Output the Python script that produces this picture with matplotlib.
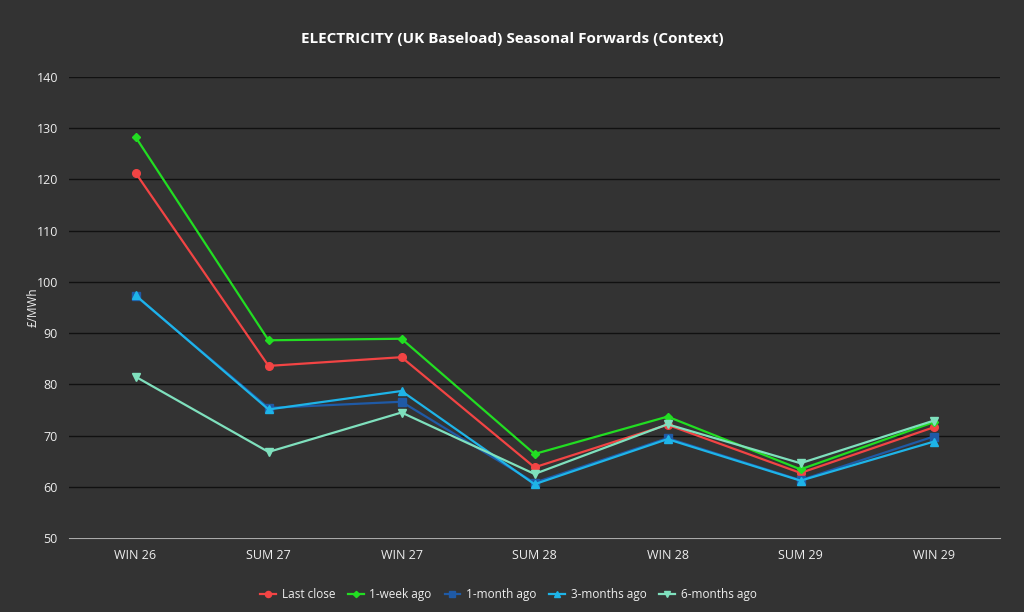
import matplotlib
matplotlib.use('Agg')
import matplotlib.pyplot as plt

plt.rcParams['font.family'] = ['Open Sans', 'DejaVu Sans']

# contrats saisonniers
contracts = ['WIN 26', 'SUM 27', 'WIN 27', 'SUM 28', 'WIN 28', 'SUM 29', 'WIN 29']

last_close = [121.3, 83.6, 85.3, 63.8, 72.1, 62.7, 71.6]
week_ago = [128.3, 88.6, 88.9, 66.4, 73.7, 63.4, 72.6]
month_ago = [97.3, 75.4, 76.6, 60.8, 69.5, 61.3, 69.8]
three_months_ago = [97.4, 75.1, 78.7, 60.5, 69.3, 61.2, 68.8]
six_months_ago = [81.5, 66.8, 74.5, 62.5, 72.2, 64.6, 72.9]

yticks = [50, 60, 70, 80, 90, 100, 110, 120, 130, 140]

bg = '#333333'
fig = plt.figure(figsize=(10.24, 6.12), dpi=100, facecolor=bg)
ax = fig.add_axes([0.0674, 0.1209, 0.9092, 0.7533], facecolor=bg)

x = list(range(len(contracts)))
series = [
    ('Last close', last_close, '#f24444', 'o', 5.5),
    ('1-week ago', week_ago, '#22dd22', 'D', 4),
    ('1-month ago', month_ago, '#1f5aa6', 's', 5.5),
    ('3-months ago', three_months_ago, '#1eb4e8', '^', 5.5),
    ('6-months ago', six_months_ago, '#7fe0bd', 'v', 5.5),
]
for name, vals, col, mk, ms in series:
    ax.plot(x, vals, color=col, marker=mk, markersize=ms, linewidth=1.6, label=name)

ax.set_xlim(-0.5, len(contracts) - 0.5)
ax.set_ylim(50, 140)
ax.set_yticks(yticks)
ax.set_xticks(x)
ax.set_xticklabels(contracts)
ax.grid(axis='y', color='#111111', linewidth=1)
ax.set_axisbelow(True)
for s in ['top', 'right', 'left']:
    ax.spines[s].set_visible(False)
ax.spines['bottom'].set_color('#aaaaaa')
ax.tick_params(colors='#eeeeee', labelsize=9, length=0, pad=8)
ax.set_ylabel('£/MWh', color='#eeeeee', fontsize=8.5)
ax.yaxis.set_label_coords(-0.032, 0.5)

fig.text(0.5, 0.93, 'ELECTRICITY (UK Baseload) Seasonal Forwards (Context)', ha='center',
         color='#ffffff', fontsize=11, fontweight='bold')

leg = ax.legend(loc='upper center', bbox_to_anchor=(0.472, -0.085), ncol=5, frameon=False,
                fontsize=8.5, handlelength=1.3, handletextpad=0.5, columnspacing=1.1,
                markerscale=0.8, labelcolor='#eeeeee')

fig.savefig('out.png', dpi=100, facecolor=bg)
